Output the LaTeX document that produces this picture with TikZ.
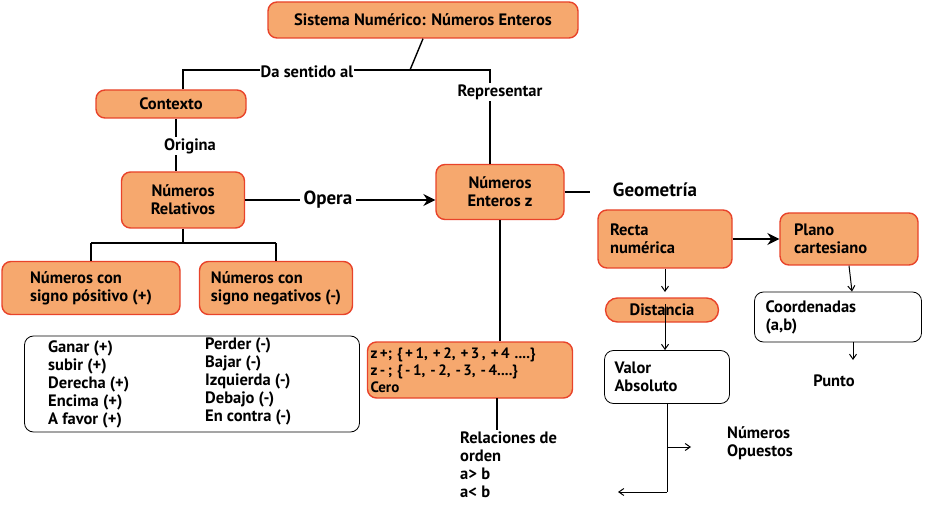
\documentclass[tikz,border=0pt]{standalone}
\usepackage{fontspec}
\setmainfont{PT Sans}
\usetikzlibrary{arrows.meta}
\definecolor{boxfill}{HTML}{F6A86E}
\definecolor{boxline}{HTML}{E8432A}
\begin{document}
\begin{tikzpicture}[x=1pt,y=-1pt,every node/.style={font=\fontsize{16.5}{18}\selectfont\bfseries},
    orange/.style={draw=boxline, fill=boxfill, line width=1.4pt, rounded corners=9pt, align=center, inner sep=1pt},
    white/.style={draw=black, fill=white, line width=0.8pt, rounded corners=9pt, align=left, inner sep=1pt},
    label/.style={fill=white, inner sep=1pt, align=left},
    line/.style={line width=1.4pt},
    small/.style={line width=1pt, -{Straight Barb[length=5pt,width=7pt]}},
    big/.style={line width=1.6pt, -{Stealth[length=12pt,width=12pt,inset=4pt]}}]
    \useasboundingbox (0,0) rectangle (933,518);

    \node (title)[orange, minimum width=310, minimum height=36] at (423,20) {Sistema Numérico: Números Enteros};
    \node (ctx)[orange, minimum width=150, minimum height=28] at (171,104) {Contexto};
    \node (rel)[orange, minimum width=123, minimum height=56] at (183,200) {Números\\Relativos};
    \node (ent)[orange, minimum width=128, minimum height=55] at (500,192) {Números\\Enteros z};
    \node (pos)[orange, minimum width=178, minimum height=53, align=left] at (91,288) {Números con\\signo pósitivo (+)};
    \node (neg)[orange, minimum width=153, minimum height=53, align=left] at (276,288) {Números con\\signo negativos (-)};
    \node (list)[white, minimum width=335, minimum height=96] at (192,384) {};
    \node (lpos)[anchor=north west, align=left, inner sep=0pt] at (48,341) {Ganar (+)\\subir (+)\\Derecha (+)\\Encima (+)\\A favor (+)};
    \node (lneg)[anchor=north west, align=left, inner sep=0pt] at (205,338) {Perder (-)\\Bajar (-)\\Izquierda (-)\\Debajo (-)\\En contra (-)};
    \node (set)[orange, align=left, minimum width=205, minimum height=56, text width=199, font=\fontsize{15}{17}\selectfont\bfseries] at (470,370)
        {z\,+; \{\,+\,1, +\,2, +\,3\,, +\,4 ....\}\\z\,-\,; \{\,-\,1, -\,2, -\,3, -\,4....\}\\Cero};
    \node (ord)[anchor=north west, align=left, inner sep=0pt] at (460,432) {Relaciones de\\orden\\a> b\\a< b};

    \node (rec)[orange, align=left, minimum width=134, minimum height=58, text width=110] at (665,239) {Recta\\numérica};
    \node (pla)[orange, align=left, minimum width=138, minimum height=52, text width=110] at (849,239) {Plano\\cartesiano};
    \node (dis)[orange, minimum width=113, minimum height=24, rounded corners=12pt, inner sep=1pt] at (662,310) {Distancia};
    \node (val)[white, minimum width=125, minimum height=53, text width=105] at (667,377) {Valor\\Absoluto};
    \node (coo)[white, minimum width=167, minimum height=50, text width=145] at (838,317) {Coordenadas\\(a,b)};
    \node (pun)[label] at (834,381) {Punto};
    \node (opu)[label] at (760,443) {Números\\Opuestos};
    \node (geo)[font=\fontsize{19}{21}\selectfont\bfseries] at (655,190) {Geometría};

    % top bracket
    \coordinate (tl) at (183,70);
    \coordinate (tr) at (490,70);
    \draw[line] (title.south) -- (410,70);
    \draw[line] (ctx.north -| tl) -- (tl) -- (tr) -- (ent.north -| tr);
    \node (sen)[label] at (307,72) {Da sentido al};
    \node (rep)[label] at (500,92) {Representar};

    \draw[line] (ctx.south -| 176,0) -- (rel.north -| 176,0);
    \node (ori)[label] at (190,146) {Origina};

    \coordinate (op) at (300,200);
    \draw[line] (rel.east |- op) -- (op);
    \node (opera)[anchor=west, font=\fontsize{19}{21}\selectfont\bfseries] at (op) {Opera};
    \draw[big] (opera.east) -- (ent.west |- op);

    \draw[line] (rel.south) -- (183,243);
    \draw[line] (pos.north |- 0,243) -- (neg.north |- 0,243);
    \draw[line] (pos.north |- 0,243) -- (pos.north);
    \draw[line] (neg.north |- 0,243) -- (neg.north);

    \draw[line] (ent.south) -- (ent.south |- set.north);
    \draw[line] (497,398) -- (497,430);
    \draw[line] (ent.east) -- (590,192);

    \draw[big] (rec.east) -- (pla.west);
    \draw[small] (rec.south) -- (665,292);
    \draw[small] (665,304) -- (val.north -| 665,0);
    \draw[small] (pla.south) -- (coo.north -| 852,0);
    \draw[small] (coo.south -| 853,0) -- (853,360);
    \coordinate (vb) at (667,492);
    \draw[line, line width=1pt] (val.south) -- (vb);
    \draw[small] (vb) -- (618,492);
    \draw[small] (667,447) -- (691,447);
\end{tikzpicture}
\end{document}
